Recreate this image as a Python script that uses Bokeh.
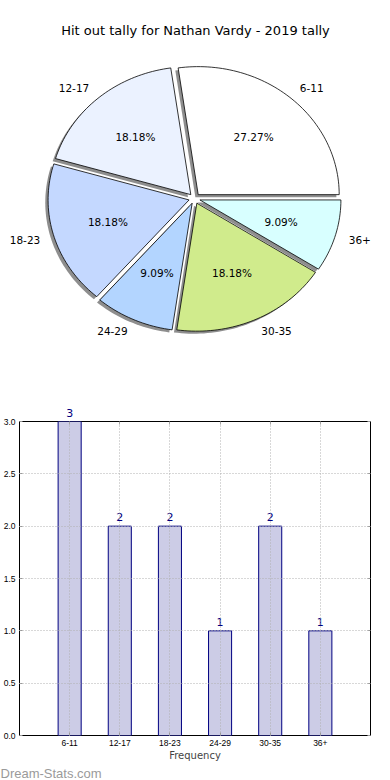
import math
from bokeh.plotting import figure
from bokeh.layouts import column
from bokeh.models import (ColumnDataSource, Range1d, FixedTicker,
                          PrintfTickFormatter, LabelSet, Title, LinearAxis)
from bokeh.core.properties import value
from bokeh.embed import file_html
from bokeh.resources import INLINE

# ---------------- data ----------------
title_text = "Hit out tally for Nathan Vardy - 2019 tally"
categories = ["6-11", "12-17", "18-23", "24-29", "30-35", "36+"]
counts = [3, 2, 2, 1, 2, 1]
pie_colors = ["#FFFFFF", "#EBF2FF", "#C4D8FF", "#B3D5FF", "#D0EB8C", "#D8FFFF"]
y_ticks = [0.0, 0.5, 1.0, 1.5, 2.0, 2.5, 3.0]
x_label = "Frequency"
watermark = "Dream-Stats.com"

FONT = "DejaVu Sans"

# ---------------- layout constants ----------------
W = 390
H1 = 400
BL, BR = 19, 20               # bar chart left/right borders
TOP = 37                      # pie frame top (title sits above)
RX, RY = 141.0, 128.0         # pixel radii (elliptical pie)
CX, CY = 194.0, 198.0         # pie centre in page pixels
EXPLODE = 0.04
LABEL_R = 1.1
PCT_R = 0.6

# ---------------- pie ----------------
total = float(sum(counts))
xs, ys, sxs, sys_ = [], [], [], []
lab_l = dict(x=[], y=[], t=[])
lab_r = dict(x=[], y=[], t=[])
pct = dict(x=[], y=[], t=[])
theta0 = 0.0
for cat, c in zip(categories, counts):
    frac = c / total
    t1 = theta0 + 360.0 * frac
    tm = math.radians((theta0 + t1) / 2)
    ox = EXPLODE * math.cos(tm)
    oy = EXPLODE * math.sin(tm)
    n = max(int((t1 - theta0) / 1.5), 4)
    px = [ox]
    py = [oy]
    for i in range(n + 1):
        a = math.radians(theta0 + (t1 - theta0) * i / n)
        px.append(ox + math.cos(a))
        py.append(oy + math.sin(a))
    xs.append(px)
    ys.append(py)
    sxs.append([v - 0.02 for v in px])
    sys_.append([v - 0.02 for v in py])
    lx = ox + LABEL_R * math.cos(tm)
    ly = oy + LABEL_R * math.sin(tm)
    d = lab_l if lx > 0 else lab_r
    d["x"].append(lx); d["y"].append(ly); d["t"].append(cat)
    pct["x"].append(ox + PCT_R * math.cos(tm))
    pct["y"].append(oy + PCT_R * math.sin(tm))
    pct["t"].append("%.2f%%" % (100 * frac))
    theta0 = t1

p1 = figure(width=W, height=H1, output_backend="svg", toolbar_location=None,
            title=title_text, x_axis_location=None, y_axis_location=None,
            min_border_bottom=0, min_border_top=TOP)

# let the pie frame span the full width (do not align it with the bar frame)
if hasattr(p1, "frame_align"):
    p1.frame_align = False
    FL, FR = 0, W
    p1.min_border_left = 0
    p1.min_border_right = 0
else:
    FL, FR = BL, W - BR
    p1.min_border_left = BL
    p1.min_border_right = BR

p1.x_range = Range1d(-(CX - FL) / RX, (FR - CX) / RX)
p1.y_range = Range1d((CY - H1) / RY, (CY - TOP) / RY)
p1.title.align = "center"
p1.title.text_font = FONT
p1.title.text_font_size = "13px"
p1.title.text_font_style = "normal"
p1.title.text_color = "#000000"
p1.title.standoff = 0
p1.grid.visible = False
p1.outline_line_color = None

p1.patches(sxs, sys_, fill_color="#7a7a7a", fill_alpha=0.85, line_color=None)
p1.patches(xs, ys, fill_color=pie_colors, line_color="#000000", line_width=0.8)

for dsrc, align in ((lab_l, "left"), (lab_r, "right"), (pct, "center")):
    p1.text(x="x", y="y", text="t", source=ColumnDataSource(dsrc),
            text_align=align, text_baseline="middle",
            text_font=value(FONT), text_font_size="10.5px",
            text_color="#000000")

# ---------------- bar ----------------
H2 = 780 - H1
YMAX = y_ticks[-1]
pos = list(range(len(categories)))          # category slots on the x axis
p2 = figure(width=W, height=H2, output_backend="svg", toolbar_location=None,
            x_range=Range1d(-1, len(categories)),
            y_range=Range1d(y_ticks[0], YMAX),
            min_border_left=BL, min_border_right=BR, min_border_top=21,
            min_border_bottom=40)
if hasattr(p2, "frame_align"):
    p2.frame_align = False

inside = [i for i, v in enumerate(counts) if v < YMAX]
src = ColumnDataSource(dict(x=pos, n=counts))
lab_src = ColumnDataSource(dict(x=[pos[i] for i in inside],
                                n=[counts[i] for i in inside],
                                lab=[str(counts[i]) for i in inside]))
p2.vbar(x="x", top="n", width=0.46, source=src, fill_color="#CCCCE6",
        line_color="#000080", line_width=1)
p2.add_layout(LabelSet(x="x", y="n", text="lab", source=lab_src,
                       text_align="center", text_baseline="alphabetic",
                       y_offset=5, text_font=value(FONT),
                       text_font_size="11px", text_color="#000080"))

# value labels of bars that reach the top of the frame sit above it
top_axis = LinearAxis(
    ticker=FixedTicker(ticks=pos),
    major_label_overrides={i: (str(v) if v >= YMAX else " ")
                           for i, v in zip(pos, counts)},
    axis_line_color=None, major_tick_in=3, major_tick_out=0,
    major_tick_line_color="#999999", minor_tick_line_color=None,
    major_label_text_font=FONT, major_label_text_font_size="11px",
    major_label_text_color="#000080", major_label_standoff=2)
p2.add_layout(top_axis, "above")
right_axis = LinearAxis(ticker=FixedTicker(ticks=y_ticks),
                        axis_line_color=None, major_tick_in=3,
                        major_tick_out=0, major_tick_line_color="#999999",
                        minor_tick_line_color=None,
                        major_label_text_color=None,
                        major_label_text_font_size="1px")
p2.add_layout(right_axis, "right")

p2.outline_line_color = "#000000"
p2.outline_line_width = 1

xax = p2.below[0]
yax = p2.left[0]
xax.ticker = FixedTicker(ticks=pos)
xax.major_label_overrides = {i: c for i, c in zip(pos, categories)}
yax.ticker = FixedTicker(ticks=y_ticks)
yax.formatter = PrintfTickFormatter(format="%.1f")
for ax in (xax, yax):
    ax.axis_line_color = None
    ax.major_tick_in = 3
    ax.major_tick_out = 0
    ax.major_tick_line_color = "#999999"
    ax.minor_tick_line_color = None
    ax.major_label_text_font = "Liberation Sans"
    ax.major_label_text_font_size = "8.5px"
    ax.major_label_text_color = "#000000"
    ax.major_label_standoff = 4
xax.axis_label = x_label
xax.axis_label_text_font = FONT
xax.axis_label_text_font_size = "10px"
xax.axis_label_text_font_style = "normal"
xax.axis_label_standoff = 1

p2.xgrid.ticker = FixedTicker(ticks=pos)
p2.ygrid.ticker = FixedTicker(ticks=y_ticks)
p2.grid.grid_line_color = "#b0b0b0"
p2.grid.grid_line_dash = "1 2"
p2.grid.grid_line_width = 1
p2.grid.level = "overlay"

p2.add_layout(Title(text=watermark, align="left", offset=-BL, standoff=0,
                    text_font="Liberation Sans", text_font_size="13px",
                    text_font_style="normal", text_color="#9a9a9a"), "below")

layout = column(p1, p2, spacing=0)
open("out.html", "w").write(file_html(layout, INLINE))
